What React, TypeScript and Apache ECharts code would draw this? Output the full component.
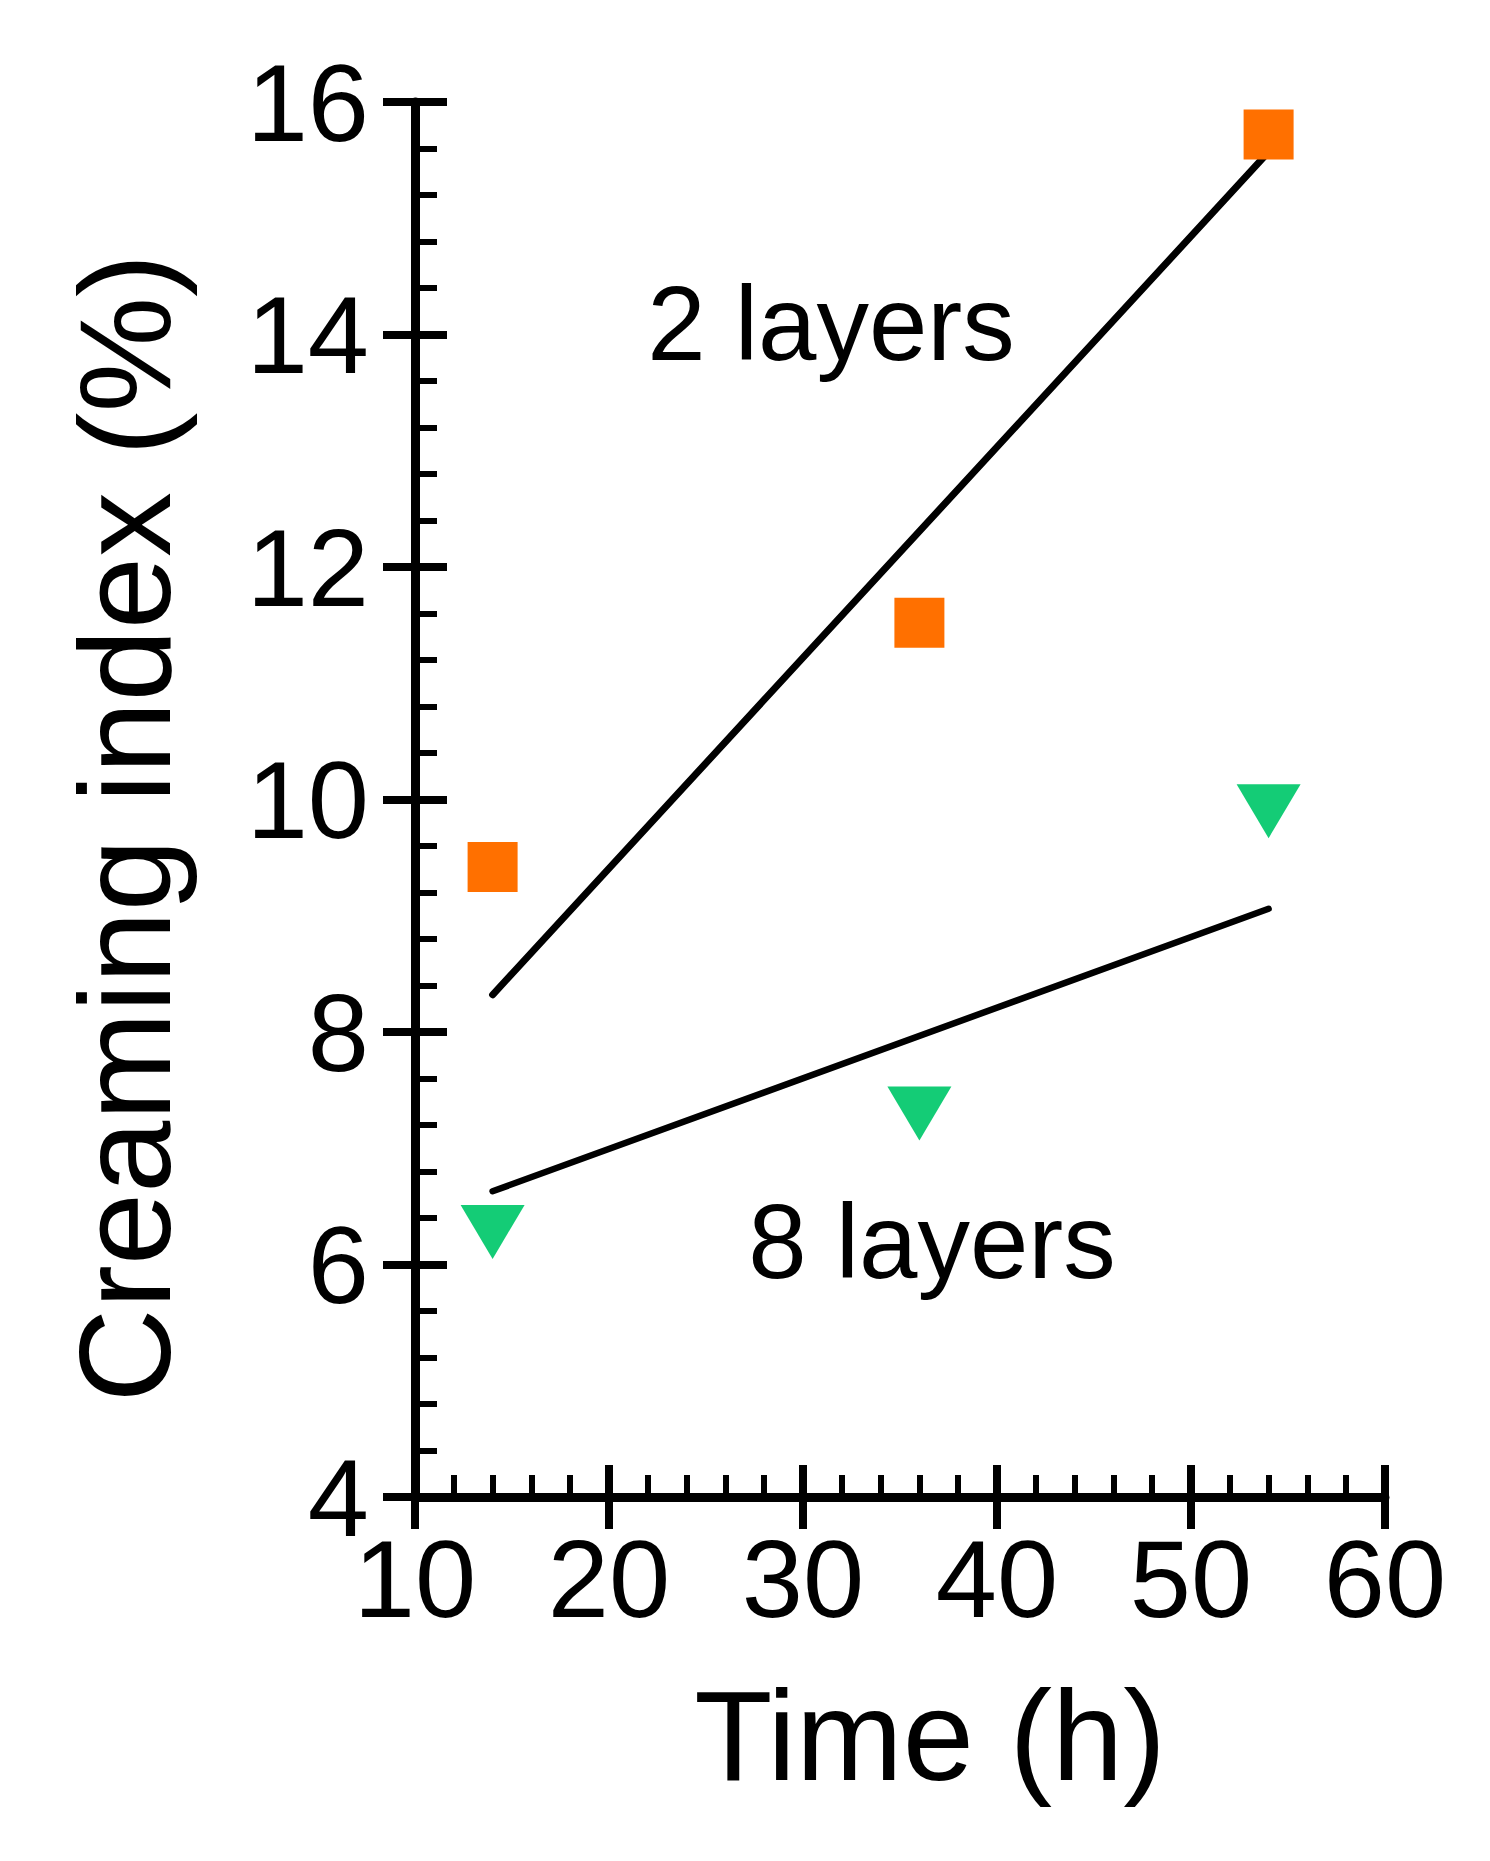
import React, { useEffect, useRef } from "react";
import * as echarts from "echarts";

// Data
const timeH = [14, 36, 54];
const layers2 = [9.42, 11.52, 15.72];
const layers8 = [6.28, 7.3, 9.9];
const fitTime = [14, 54];
const fit2 = [8.32, 15.57];
const fit8 = [6.63, 9.06];
const xTitle = "Time (h)";
const yTitle = "Creaming index (%)";
const label2 = "2 layers";
const label8 = "8 layers";

const FONT = "'Liberation Sans', Arial, Helvetica, sans-serif";

export default function App() {
  const ref = useRef<HTMLDivElement>(null);
  useEffect(() => {
    if (!ref.current) return;
    const chart = echarts.init(ref.current, undefined, { renderer: "svg" });
    const axisCommon = (isX: boolean) => ({
      type: "value" as const,
      min: isX ? 10 : 4,
      max: isX ? 60 : 16,
      interval: isX ? 10 : 2,
      splitLine: { show: false },
    });
    const lineStyle = { color: "#000", width: 9 };
    const majorTick = { color: "#000", width: 8 };
    chart.setOption({
      animation: false,
      backgroundColor: "#fff",
      grid: { left: 415, top: 102, width: 970, height: 1395, containLabel: false },
      xAxis: [
        {
          ...axisCommon(true),
          position: "bottom",
          axisLine: { show: true, lineStyle },
          axisTick: { show: true, inside: true, length: 32, lineStyle: majorTick },
          minorTick: { show: true, splitNumber: 5, length: 22, lineStyle: { color: "#000", width: 6 } },
          axisLabel: { show: true, fontSize: 110, color: "#000", fontFamily: FONT, margin: 26 },
        },
        {
          ...axisCommon(true),
          position: "bottom",
          axisLine: { show: false },
          axisTick: { show: true, inside: false, length: 32, lineStyle: majorTick },
          minorTick: { show: false },
          axisLabel: { show: false },
        },
      ],
      yAxis: [
        {
          ...axisCommon(false),
          position: "left",
          axisLine: { show: true, lineStyle },
          axisTick: { show: true, inside: true, length: 32, lineStyle: majorTick },
          minorTick: { show: true, splitNumber: 5, length: 22, lineStyle: { color: "#000", width: 6 } },
          axisLabel: { show: true, fontSize: 110, color: "#000", fontFamily: FONT, margin: 46 },
        },
        {
          ...axisCommon(false),
          position: "left",
          axisLine: { show: false },
          axisTick: { show: true, inside: false, length: 32, lineStyle: majorTick },
          minorTick: { show: false },
          axisLabel: { show: false },
        },
      ],
      graphic: [
        {
          type: "text",
          x: 125,
          y: 828,
          rotation: Math.PI / 2,
          style: {
            text: yTitle,
            font: `130px ${FONT}`,
            fill: "#000",
            align: "center",
            verticalAlign: "middle",
          },
        },
        {
          type: "text",
          x: 930,
          y: 1735,
          style: {
            text: xTitle,
            font: `128px ${FONT}`,
            fill: "#000",
            align: "center",
            verticalAlign: "middle",
          },
        },
        {
          type: "text",
          x: 831,
          y: 323,
          style: { text: label2, font: `105px ${FONT}`, fill: "#000", align: "center", verticalAlign: "middle" },
        },
        {
          type: "text",
          x: 932,
          y: 1241,
          style: { text: label8, font: `105px ${FONT}`, fill: "#000", align: "center", verticalAlign: "middle" },
        },
      ],
      series: [
        {
          type: "line",
          data: fitTime.map((t, i) => [t, fit2[i]]),
          symbol: "none",
          lineStyle: { color: "#000", width: 7, cap: "round" },
          z: 2,
        },
        {
          type: "line",
          data: fitTime.map((t, i) => [t, fit8[i]]),
          symbol: "none",
          lineStyle: { color: "#000", width: 6.5, cap: "round" },
          z: 2,
        },
        {
          type: "scatter",
          data: timeH.map((t, i) => [t, layers2[i]]),
          symbol: "rect",
          symbolSize: 50,
          itemStyle: { color: "#FF7000", opacity: 1 },
          z: 3,
        },
        {
          type: "scatter",
          data: timeH.map((t, i) => [t, layers8[i]]),
          symbol: "triangle",
          symbolRotate: 180,
          symbolSize: [64, 54],
          itemStyle: { color: "#14CC76", opacity: 1 },
          z: 3,
        },
      ],
    });
    return () => chart.dispose();
  }, []);
  return (
    <div
      ref={ref}
      style={{ position: "fixed", left: 0, top: 0, width: 1490, height: 1861 }}
    />
  );
}
